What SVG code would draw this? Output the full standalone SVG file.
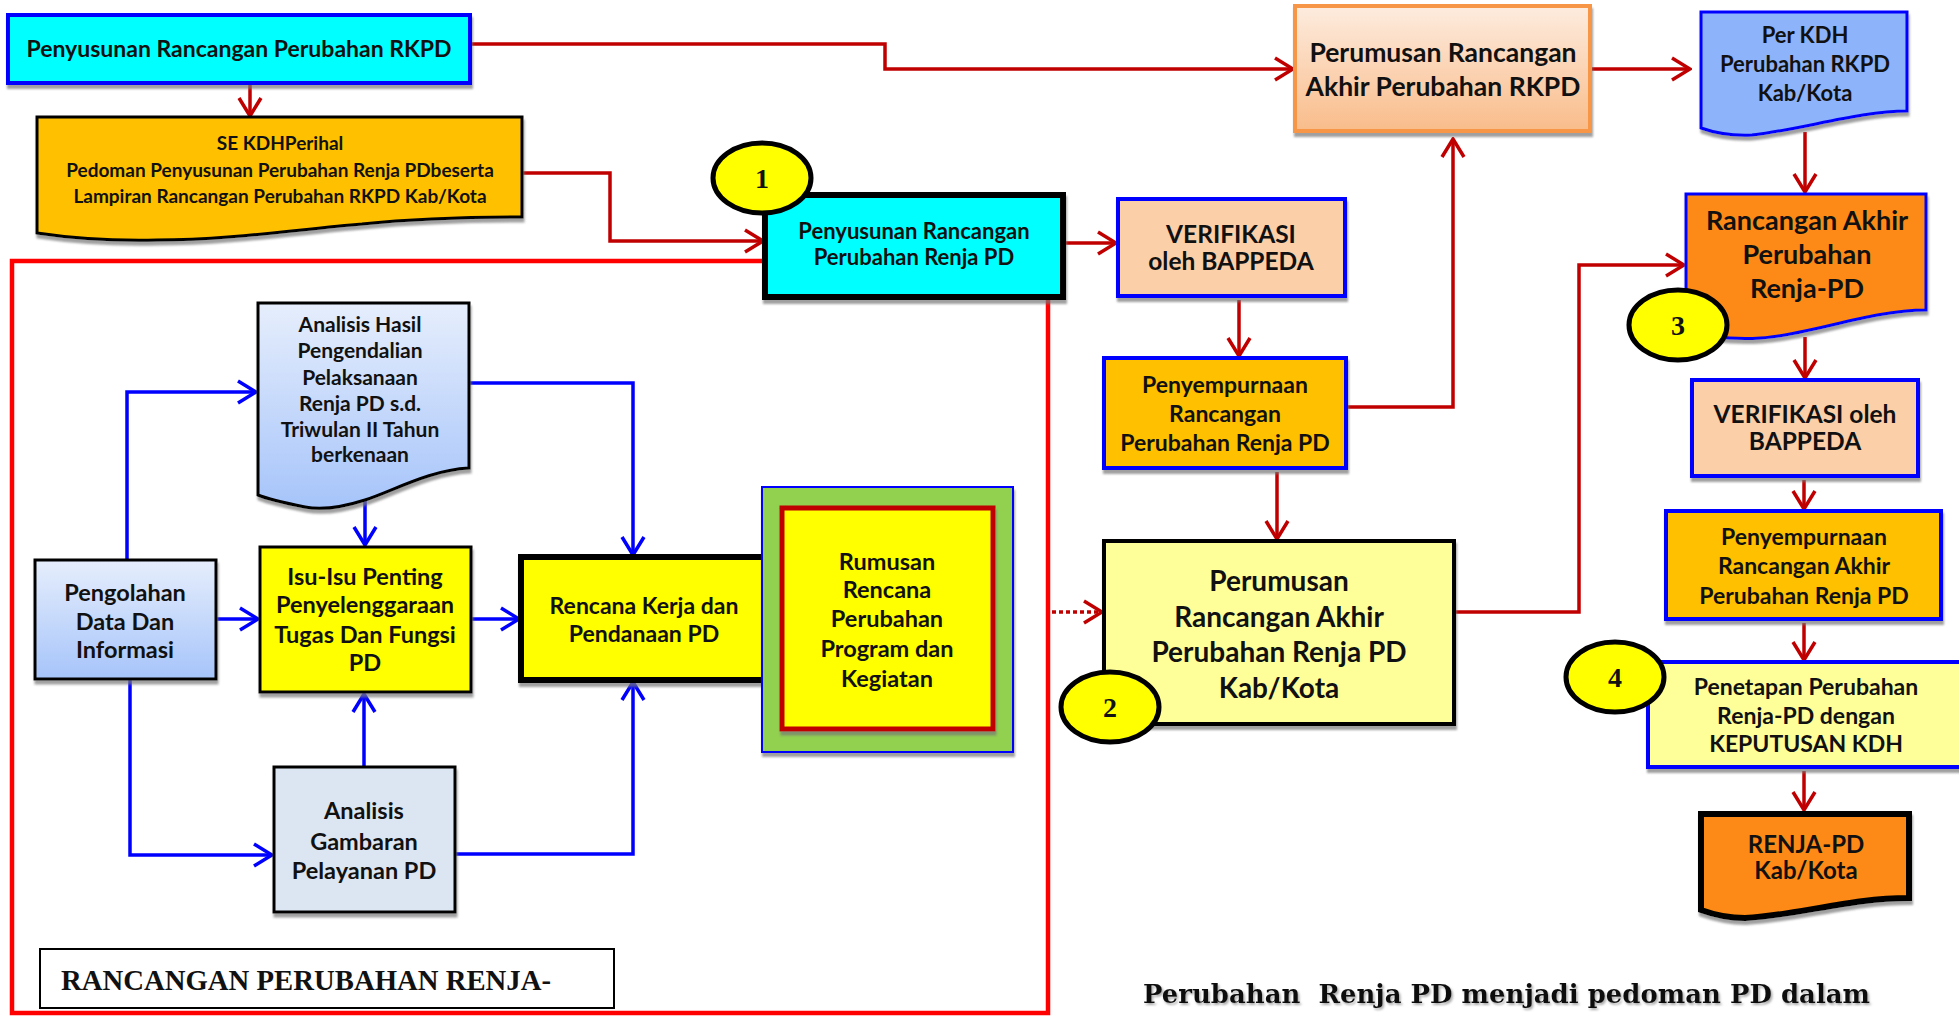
<svg xmlns="http://www.w3.org/2000/svg" width="1959" height="1019" viewBox="0 0 1959 1019">
<defs>
<style>
.t{font-family:Lato,"Open Sans","Liberation Sans",sans-serif;font-weight:bold;text-anchor:middle;fill:#111}
.s{font-family:"Liberation Serif","DejaVu Serif",serif;font-weight:bold;fill:#111}
.cap{font-family:"DejaVu Serif","Liberation Serif",serif;font-weight:bold;fill:#111;filter:url(#ts)}
.num{font-family:"Liberation Serif","DejaVu Serif",serif;font-weight:bold;font-size:28px;text-anchor:middle;fill:#111}
.circ{fill:#FFFF00;stroke:#000;stroke-width:5}
.bl{stroke:#0000FF;stroke-width:4}
.bk{stroke:#000;stroke-width:3}
.red{fill:none;stroke:#C00000;stroke-width:3.5;marker-end:url(#ar)}
.blu{fill:none;stroke:#0000FF;stroke-width:3.5;marker-end:url(#ab)}
.sh{filter:url(#ds)}
</style>
<filter id="ds" x="-5%" y="-5%" width="115%" height="125%">
<feDropShadow dx="1" dy="4" stdDeviation="1" flood-color="#777" flood-opacity="0.7"/>
</filter>
<filter id="ts" x="-2%" y="-20%" width="104%" height="150%">
<feDropShadow dx="1.5" dy="2" stdDeviation="0.8" flood-color="#888" flood-opacity="0.7"/>
</filter>
<linearGradient id="gb" x1="0" y1="0" x2="0" y2="1">
<stop offset="0" stop-color="#E6EEFC"/><stop offset="1" stop-color="#A6C4FA"/>
</linearGradient>
<linearGradient id="go" x1="0" y1="0" x2="0" y2="1">
<stop offset="0" stop-color="#FDECDF"/><stop offset="1" stop-color="#F9BC8A"/>
</linearGradient>
<marker id="ar" markerUnits="userSpaceOnUse" markerWidth="22" markerHeight="26" viewBox="0 0 22 26" refX="20" refY="13" orient="auto">
<path d="M2,2 L20,13 L2,24" fill="none" stroke="#C00000" stroke-width="3.5"/>
</marker>
<marker id="ab" markerUnits="userSpaceOnUse" markerWidth="22" markerHeight="26" viewBox="0 0 22 26" refX="20" refY="13" orient="auto">
<path d="M2,2 L20,13 L2,24" fill="none" stroke="#0000FF" stroke-width="3.5"/>
</marker>
</defs>
<rect width="1959" height="1019" fill="#fff"/>

<g id="frame">
<rect x="12" y="261" width="1036" height="752" fill="none" stroke="#FF0000" stroke-width="4.5"/>
</g>

<g id="connectors">
<path class="red" d="M470,44 H885 V69 H1293"/>
<path class="red" d="M250,84 V116"/>
<path class="red" d="M522,173 H610 V241 H763"/>
<path class="red" d="M1063,243 H1116"/>
<path class="red" d="M1239,300 V356"/>
<path class="red" d="M1346,407 H1453 V139"/>
<path class="red" d="M1277,472 V539"/>
<path class="red" d="M1052,612 H1102" stroke-dasharray="4,3"/>
<path class="red" d="M1454,612 H1579 V265 H1684"/>
<path class="red" d="M1590,69 H1690"/>
<path class="red" d="M1805,132 V192"/>
<path class="red" d="M1805,337 V378"/>
<path class="red" d="M1804,480 V509"/>
<path class="red" d="M1804,623 V660"/>
<path class="red" d="M1804,771 V810"/>
<path class="blu" d="M127,560 V392 H256"/>
<path class="blu" d="M216,619 H258"/>
<path class="blu" d="M130,679 V855 H272"/>
<path class="blu" d="M365,497 V545"/>
<path class="blu" d="M469,383 H633 V555"/>
<path class="blu" d="M471,619 H519"/>
<path class="blu" d="M364,767 V694"/>
<path class="blu" d="M455,854 H633 V682"/>
</g>

<g id="n-rkpd">
<rect class="sh bl" x="8" y="15" width="462" height="68" fill="#00FFFF"/>
<text class="t" x="239" y="57" font-size="23">Penyusunan Rancangan Perubahan RKPD</text>
</g>

<g id="n-se">
<path class="sh bk" d="M37,117 H522 V217 C480,217 420,218 362,224 C300,229 230,240 157,240 C110,241 70,238 37,233 Z" fill="#FFC000"/>
<text class="t" font-size="19"><tspan x="280" y="150">SE KDHPerihal</tspan><tspan x="280" y="177">Pedoman Penyusunan Perubahan Renja PDbeserta</tspan><tspan x="280" y="203">Lampiran Rancangan Perubahan RKPD Kab/Kota</tspan></text>
</g>

<g id="n-renja1">
<rect class="sh" x="765" y="195" width="298" height="102" fill="#00FFFF" stroke="#000" stroke-width="6"/>
<text class="t" font-size="22"><tspan x="914" y="239">Penyusunan Rancangan</tspan><tspan x="914" y="265">Perubahan Renja PD</tspan></text>
</g>

<g id="c1">
<ellipse class="circ" cx="762" cy="178" rx="49" ry="35"/>
<text class="num" x="762" y="188">1</text>
</g>

<g id="n-verif1">
<rect class="sh bl" x="1118" y="199" width="227" height="97" fill="#FBCFA8"/>
<text class="t" font-size="24.5"><tspan x="1231" y="243">VERIFIKASI</tspan><tspan x="1231" y="270">oleh BAPPEDA</tspan></text>
</g>

<g id="n-peny1">
<rect class="sh bl" x="1104" y="358" width="242" height="110" fill="#FFC000"/>
<text class="t" font-size="23"><tspan x="1225" y="393">Penyempurnaan</tspan><tspan x="1225" y="422">Rancangan</tspan><tspan x="1225" y="451">Perubahan Renja PD</tspan></text>
</g>

<g id="n-akhir-renja">
<rect class="sh" x="1104" y="541" width="350" height="183" fill="#FFFF99" stroke="#000" stroke-width="4"/>
<text class="t" font-size="28"><tspan x="1279" y="591">Perumusan</tspan><tspan x="1279" y="627">Rancangan Akhir</tspan><tspan x="1279" y="662">Perubahan Renja PD</tspan><tspan x="1279" y="698">Kab/Kota</tspan></text>
</g>

<g id="c2">
<ellipse class="circ" cx="1110" cy="707" rx="49" ry="35"/>
<text class="num" x="1110" y="717">2</text>
</g>

<g id="n-perumusan-rkpd">
<rect class="sh" x="1295" y="6" width="295" height="125" fill="url(#go)" stroke="#F79646" stroke-width="4"/>
<text class="t" font-size="26.5"><tspan x="1443" y="62">Perumusan Rancangan</tspan><tspan x="1443" y="96">Akhir Perubahan RKPD</tspan></text>
</g>

<g id="n-perkdh">
<path class="sh" d="M1701,12 H1907 V111 C1860,111 1800,130 1752,135 C1730,136 1715,133 1701,128 Z" fill="#8DB3FA" stroke="#0000FF" stroke-width="3"/>
<text class="t" font-size="22"><tspan x="1805" y="43">Per KDH</tspan><tspan x="1805" y="72">Perubahan RKPD</tspan><tspan x="1805" y="101">Kab/Kota</tspan></text>
</g>

<g id="n-rancangan-akhir">
<path class="sh" d="M1686,194 H1926 V310 C1870,310 1810,335 1761,338 C1730,340 1705,336 1686,330 Z" fill="#FD8A12" stroke="#0000FF" stroke-width="3"/>
<text class="t" font-size="27"><tspan x="1807" y="230">Rancangan Akhir</tspan><tspan x="1807" y="264">Perubahan</tspan><tspan x="1807" y="298">Renja-PD</tspan></text>
</g>

<g id="c3">
<ellipse class="circ" cx="1678" cy="325" rx="49" ry="35"/>
<text class="num" x="1678" y="335">3</text>
</g>

<g id="n-verif2">
<rect class="sh bl" x="1692" y="380" width="226" height="96" fill="#FBCFA8"/>
<text class="t" font-size="24.5"><tspan x="1805" y="423">VERIFIKASI oleh</tspan><tspan x="1805" y="450">BAPPEDA</tspan></text>
</g>

<g id="n-peny2">
<rect class="sh bl" x="1666" y="511" width="275" height="108" fill="#FFC000"/>
<text class="t" font-size="23"><tspan x="1804" y="545">Penyempurnaan</tspan><tspan x="1804" y="574">Rancangan Akhir</tspan><tspan x="1804" y="604">Perubahan Renja PD</tspan></text>
</g>

<g id="n-penetapan">
<rect class="sh bl" x="1648" y="662" width="330" height="105" fill="#FFFF99"/>
<text class="t" font-size="23"><tspan x="1806" y="695">Penetapan Perubahan</tspan><tspan x="1806" y="724">Renja-PD dengan</tspan><tspan x="1806" y="752">KEPUTUSAN KDH</tspan></text>
</g>

<g id="c4">
<ellipse class="circ" cx="1615" cy="677" rx="49" ry="35"/>
<text class="num" x="1615" y="687">4</text>
</g>

<g id="n-renjapd">
<path class="sh" d="M1701,814 H1909 V898 C1850,898 1800,915 1745,918 C1725,918 1712,914 1701,910 Z" fill="#FD8A12" stroke="#000" stroke-width="6"/>
<text class="t" font-size="24"><tspan x="1806" y="853">RENJA-PD</tspan><tspan x="1806" y="879">Kab/Kota</tspan></text>
</g>

<g id="n-analisis-hasil">
<path class="sh bk" d="M258,303 H469 V468 C430,470 395,490 365,500 C340,508 320,510 305,507 C285,503 270,500 258,495 Z" fill="url(#gb)"/>
<text class="t" font-size="21"><tspan x="360" y="332">Analisis Hasil</tspan><tspan x="360" y="358">Pengendalian</tspan><tspan x="360" y="385">Pelaksanaan</tspan><tspan x="360" y="411">Renja PD s.d.</tspan><tspan x="360" y="437">Triwulan II Tahun</tspan><tspan x="360" y="462">berkenaan</tspan></text>
</g>

<g id="n-pengolahan">
<rect class="sh bk" x="35" y="560" width="181" height="119" fill="url(#gb)"/>
<text class="t" font-size="23.5"><tspan x="125" y="601">Pengolahan</tspan><tspan x="125" y="630">Data Dan</tspan><tspan x="125" y="658">Informasi</tspan></text>
</g>

<g id="n-isu">
<rect class="sh bk" x="260" y="547" width="211" height="145" fill="#FFFF00"/>
<text class="t" font-size="23.5"><tspan x="365" y="585">Isu-Isu Penting</tspan><tspan x="365" y="613">Penyelenggaraan</tspan><tspan x="365" y="643">Tugas Dan Fungsi</tspan><tspan x="365" y="671">PD</tspan></text>
</g>

<g id="n-rencana">
<rect class="sh" x="521" y="557" width="246" height="123" fill="#FFFF00" stroke="#000" stroke-width="6"/>
<text class="t" font-size="23"><tspan x="644" y="614">Rencana Kerja dan</tspan><tspan x="644" y="642">Pendanaan PD</tspan></text>
</g>

<g id="n-rumusan">
<rect class="sh" x="762" y="487" width="251" height="265" fill="#92D050" stroke="#0000FF" stroke-width="2"/>
<rect class="sh" x="782" y="508" width="211" height="221" fill="#FFFF00" stroke="#C00000" stroke-width="5"/>
<text class="t" font-size="23.5"><tspan x="887" y="570">Rumusan</tspan><tspan x="887" y="598">Rencana</tspan><tspan x="887" y="627">Perubahan</tspan><tspan x="887" y="657">Program dan</tspan><tspan x="887" y="687">Kegiatan</tspan></text>
</g>

<g id="n-gambaran">
<rect class="sh bk" x="274" y="767" width="181" height="145" fill="#DCE6F2"/>
<text class="t" font-size="23.5"><tspan x="364" y="819">Analisis</tspan><tspan x="364" y="850">Gambaran</tspan><tspan x="364" y="879">Pelayanan PD</tspan></text>
</g>

<g id="n-title-left">
<rect x="40" y="949" width="574" height="59" fill="#fff" stroke="#000" stroke-width="2"/>
<text class="s" x="61" y="990" font-size="29" textLength="490" lengthAdjust="spacingAndGlyphs">RANCANGAN PERUBAHAN RENJA-</text>
</g>

<g id="caption">
<text class="cap" x="1143" y="1003" font-size="26" textLength="727" lengthAdjust="spacingAndGlyphs" xml:space="preserve">Perubahan  Renja PD menjadi pedoman PD dalam</text>
</g>
</svg>
